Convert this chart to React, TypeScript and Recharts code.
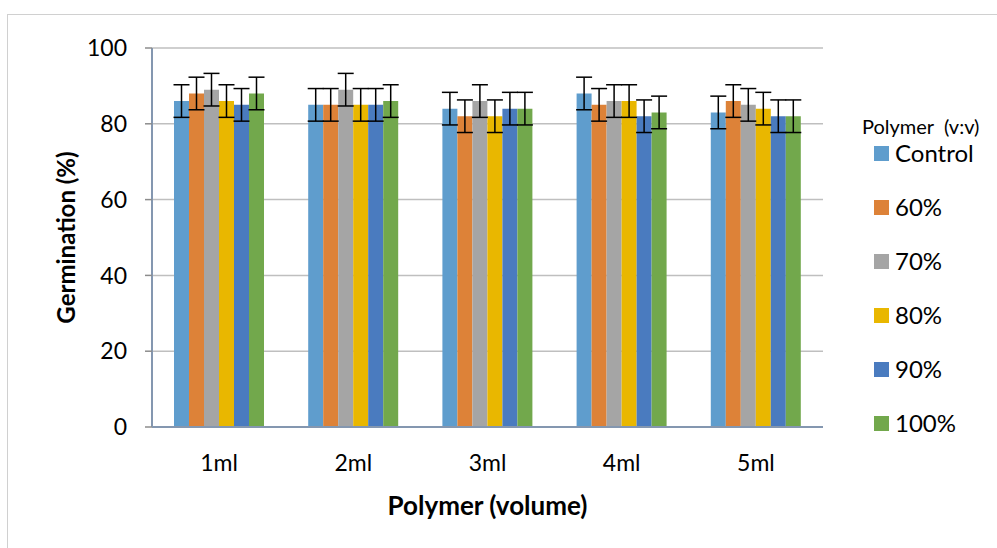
import React from "react";
import { BarChart, Bar, XAxis, YAxis, CartesianGrid, ErrorBar, Label } from "recharts";

const categories = ["1ml", "2ml", "3ml", "4ml", "5ml"];
const control = [86, 85, 84, 88, 83];
const p60 = [88, 85, 82, 85, 86];
const p70 = [89, 89, 86, 86, 85];
const p80 = [86, 85, 82, 86, 84];
const p90 = [85, 85, 84, 82, 82];
const p100 = [88, 86, 84, 83, 82];
const errors = [4.3, 4.3, 4.3, 4.3, 4.3];
const yTicks = [0, 20, 40, 60, 80, 100];

const series = [
  { key: "control", name: "Control", values: control, color: "#5f9dcd" },
  { key: "p60", name: "60%", values: p60, color: "#dd8238" },
  { key: "p70", name: "70%", values: p70, color: "#a5a5a5" },
  { key: "p80", name: "80%", values: p80, color: "#e9b700" },
  { key: "p90", name: "90%", values: p90, color: "#4a7bbf" },
  { key: "p100", name: "100%", values: p100, color: "#72a84c" },
];

const data = categories.map((cat, i) => {
  const row: Record<string, string | number> = { cat };
  series.forEach((s) => {
    row[s.key] = s.values[i];
    row[s.key + "Err"] = errors[i];
  });
  return row;
});

const FONT = "Lato, 'Open Sans', sans-serif";

// legend drawn as plain html next to the plot
const LegendBox = () => (
  <div style={{ position: "absolute", left: 862, top: 116, fontFamily: FONT, color: "#000" }}>
    <div style={{ fontSize: 20, height: 20, lineHeight: "20px", whiteSpace: "pre" }}>Polymer  (v:v)</div>
    {series.map((s, i) => (
      <div key={s.key} style={{ display: "flex", alignItems: "center", height: 24, marginTop: i === 0 ? 5 : 30, marginLeft: 12 }}>
        <div style={{ width: 15, height: 15, backgroundColor: s.color, marginRight: 6 }} />
        <span style={{ fontSize: 24, lineHeight: "24px" }}>{s.name}</span>
      </div>
    ))}
  </div>
);

export default function App() {
  return (
    <div style={{ position: "fixed", left: 0, top: 0, width: 997, height: 548, overflow: "hidden", background: "#fff" }}>
      <div style={{ position: "absolute", left: 7, top: 14, width: 1100, height: 700, border: "1px solid #d0d0d0" }} />
      <div style={{ position: "absolute", left: 0, top: 0 }}>
        <BarChart
          width={997}
          height={548}
          data={data}
          margin={{ top: 48, right: 174, bottom: 0, left: 0 }}
          barCategoryGap={22}
          barGap={0}
        >
          <CartesianGrid vertical={false} stroke="#bfbfbf" strokeWidth={1.5} />
          <XAxis
            dataKey="cat"
            height={121}
            tickSize={0}
            tickMargin={28}
            axisLine={{ stroke: "#8497b0", strokeWidth: 2 }}
            tick={{ fontSize: 23, fill: "#000", fontFamily: FONT }}
          >
            <Label value="Polymer (volume)" position="center" dy={18} style={{ fontSize: 26, fontWeight: 700, fill: "#000", fontFamily: FONT }} />
          </XAxis>
          <XAxis xAxisId="top" dataKey="cat" orientation="top" height={0} tick={false} tickLine={false} axisLine={{ stroke: "#8db3e2", strokeWidth: 2.5 }} />
          <YAxis
            width={152}
            domain={[0, 100]}
            ticks={yTicks}
            tickSize={7}
            tickMargin={18}
            tickLine={{ stroke: "#8c8c8c", strokeWidth: 1.5 }}
            axisLine={{ stroke: "#8497b0", strokeWidth: 2 }}
            tick={{ fontSize: 23, fill: "#000", fontFamily: FONT }}
          >
            <Label value="Germination (%)" angle={-90} position="center" dx={-10} style={{ fontSize: 24, fontWeight: 700, fill: "#000", fontFamily: FONT, textAnchor: "middle" }} />
          </YAxis>
          <YAxis yAxisId="right" orientation="right" width={0} domain={[0, 100]} tick={false} tickLine={false} axisLine={{ stroke: "#8db3e2", strokeWidth: 2.5 }} />
          {series.map((s) => (
            <Bar key={s.key} dataKey={s.key} name={s.name} fill={s.color} isAnimationActive={false}>
              <ErrorBar dataKey={s.key + "Err"} width={8} stroke="#000" strokeWidth={1.5} direction="y" isAnimationActive={false} />
            </Bar>
          ))}
        </BarChart>
      </div>
      <LegendBox />
    </div>
  );
}
